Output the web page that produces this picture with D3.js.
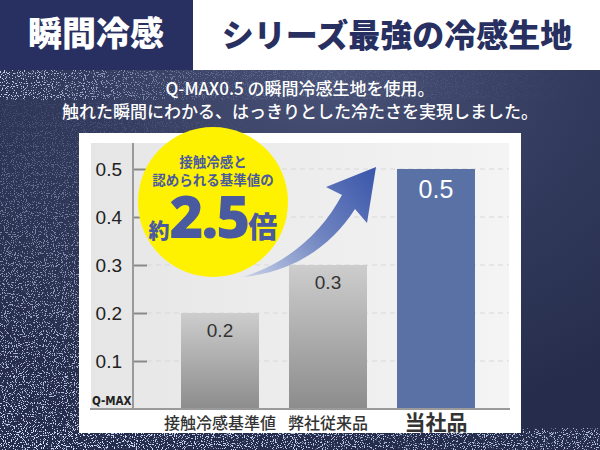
<!DOCTYPE html>
<html><head><meta charset="utf-8">
<script src="https://cdn.jsdelivr.net/npm/d3@7"></script>
<style>html,body{margin:0;padding:0;background:#2a3152;}svg{display:block;}</style>
</head><body>
<script>
const categories = ["接触冷感基準値", "弊社従来品", "当社品"];
const values = [0.2, 0.3, 0.5];
const valueLabels = ["0.2", "0.3", "0.5"];
const yTicks = [0.1, 0.2, 0.3, 0.4, 0.5];
const headerLeft = "瞬間冷感";
const headerRight = "シリーズ最強の冷感生地";
const subLines = ["Q-MAX0.5 の瞬間冷感生地を使用。", "触れた瞬間にわかる、はっきりとした冷たさを実現しました。"];
const calloutLines = ["接触冷感と", "認められる基準値の"];
const calloutBig = ["約", "2.5", "倍"];

const W = 600, H = 450;
const JP = "'Noto Sans CJK JP','Noto Sans',sans-serif";
const NUM = "'Liberation Sans',Arial,sans-serif";
const svg = d3.select("body").append("svg").attr("width", W).attr("height", H);
const defs = svg.append("defs");

// background gradients
const bg = defs.append("radialGradient").attr("id","bg").attr("cx","0.55").attr("cy","0.15").attr("r","0.8");
bg.append("stop").attr("offset","0").attr("stop-color","#4a5478");
bg.append("stop").attr("offset","0.5").attr("stop-color","#333b5e");
bg.append("stop").attr("offset","1").attr("stop-color","#262d4c");

// sparkle filter
const f = defs.append("filter").attr("id","sparkle").attr("x","0").attr("y","0").attr("width","1").attr("height","1");
f.append("feTurbulence").attr("type","fractalNoise").attr("baseFrequency","0.9").attr("numOctaves","2").attr("seed","7").attr("result","n");
f.append("feColorMatrix").attr("in","n").attr("type","matrix")
  .attr("values","0 0 0 0 0.66  0 0 0 0 0.76  0 0 0 0 0.98  0 0 0 -16 6.6").attr("result","s");
f.append("feComposite").attr("in","s").attr("in2","SourceGraphic").attr("operator","in");

const mk = defs.append("radialGradient").attr("id","spmask").attr("cx","0").attr("cy","1").attr("r","0.85");
mk.append("stop").attr("offset","0").attr("stop-color","#fff").attr("stop-opacity","1");
mk.append("stop").attr("offset","0.45").attr("stop-color","#fff").attr("stop-opacity","0.6");
mk.append("stop").attr("offset","1").attr("stop-color","#fff").attr("stop-opacity","0");
const mk3 = defs.append("linearGradient").attr("id","spmask3").attr("x1","0").attr("x2","1");
mk3.append("stop").attr("offset","0").attr("stop-color","#fff").attr("stop-opacity","0.9");
mk3.append("stop").attr("offset","0.35").attr("stop-color","#fff").attr("stop-opacity","0.2");
mk3.append("stop").attr("offset","1").attr("stop-color","#fff").attr("stop-opacity","0");

svg.append("rect").attr("width",W).attr("height",H).attr("fill","url(#bg)");
svg.append("rect").attr("width",W).attr("height",H).attr("fill","url(#spmask)").attr("filter","url(#sparkle)");
svg.append("rect").attr("y",70).attr("width",W).attr("height",30).attr("fill","url(#spmask3)").attr("filter","url(#sparkle)");
svg.append("rect").attr("y",428).attr("width",W).attr("height",22).attr("fill","#fff").attr("opacity",0.8).attr("filter","url(#sparkle)");

// header
svg.append("rect").attr("x",0).attr("y",0).attr("width",W).attr("height",70).attr("fill","#ffffff");
svg.append("rect").attr("x",0).attr("y",0).attr("width",193).attr("height",70).attr("fill","#283061");
svg.append("text").attr("x",96).attr("y",46).attr("text-anchor","middle")
  .attr("font-family",JP).attr("font-weight",900).attr("font-size",34).attr("fill","#fff").text(headerLeft);
svg.append("text").attr("x",397).attr("y",47).attr("text-anchor","middle")
  .attr("font-family",JP).attr("font-weight",900).attr("font-size",32).attr("fill","#283061").text(headerRight);

// subtitle
svg.selectAll("text.sub").data(subLines).join("text").attr("class","sub")
  .attr("x",300).attr("y",(d,i)=>95+i*23).attr("text-anchor","middle")
  .attr("font-family",JP).attr("font-weight",500).attr("font-size",17).attr("fill","#fff").text(d=>d);

// panel
svg.append("rect").attr("x",79).attr("y",133).attr("width",442).attr("height",300).attr("fill","#fff");
const pg = defs.append("linearGradient").attr("id","plotbg").attr("x1","0").attr("x2","1");
pg.append("stop").attr("offset","0").attr("stop-color","#e6e6e6");
pg.append("stop").attr("offset","1").attr("stop-color","#f4f4f4");
svg.append("rect").attr("x",91).attr("y",143).attr("width",418).attr("height",266).attr("fill","url(#plotbg)");

// scales
const y = d3.scaleLinear().domain([0,0.5]).range([409,169]);
const x = d3.scaleBand().domain(categories).range([166,490]).paddingInner(0.278).paddingOuter(0.139);

// gridlines
svg.append("g").selectAll("line").data(yTicks).join("line")
  .attr("x1",147).attr("x2",509).attr("y1",d=>y(d)).attr("y2",d=>y(d))
  .attr("stroke","#d8d8d8").attr("stroke-width",1).attr("stroke-dasharray","5,4");

// y axis
const yAxis = d3.axisLeft(y).tickValues(yTicks).tickSize(-14).tickPadding(11).tickFormat(d3.format(".1f"));
const ya = svg.append("g").attr("transform","translate(133,0)").call(yAxis);
ya.select(".domain").remove();
ya.selectAll(".tick line").attr("stroke","#8a8a8a").attr("stroke-width",2);
ya.selectAll(".tick text").attr("font-family",NUM).attr("font-size",19).attr("fill","#222").attr("dy","0.36em");
svg.append("line").attr("x1",133).attr("x2",133).attr("y1",143).attr("y2",409).attr("stroke","#9a9a9a").attr("stroke-width",2);

// bars
const bgGrad = defs.append("linearGradient").attr("id","graybar").attr("x1","0").attr("x2","0").attr("y1","0").attr("y2","1");
bgGrad.append("stop").attr("offset","0").attr("stop-color","#cdcdcd");
bgGrad.append("stop").attr("offset","1").attr("stop-color","#8c8c8c");
const barColors = ["url(#graybar)","url(#graybar)","#5a71a6"];
svg.append("g").selectAll("rect").data(values).join("rect")
  .attr("x",(d,i)=>x(categories[i])).attr("width",x.bandwidth())
  .attr("y",d=>y(d)).attr("height",d=>y(0)-y(d))
  .attr("fill",(d,i)=>barColors[i]);
svg.append("g").selectAll("text").data(values).join("text")
  .attr("x",(d,i)=>x(categories[i])+x.bandwidth()/2)
  .attr("y",(d,i)=>y(d)+(i===2?29:24)).attr("text-anchor","middle")
  .attr("font-family",NUM).attr("font-size",(d,i)=>i===2?25:19)
  .attr("fill",(d,i)=>i===2?"#fff":"#333").text((d,i)=>valueLabels[i]);

// x axis line
svg.append("line").attr("x1",90).attr("x2",510).attr("y1",409).attr("y2",409).attr("stroke","#9a9a9a").attr("stroke-width",2);
svg.append("text").attr("x",92).attr("y",405).attr("font-family","'Liberation Sans Narrow','DejaVu Sans Condensed',sans-serif")
  .attr("font-weight",700).attr("font-size",11.5).attr("fill","#222").text("Q-MAX");

// category labels
svg.append("g").selectAll("text").data(categories).join("text")
  .attr("x",d=>x(d)+x.bandwidth()/2).attr("y",(d,i)=>i===2?430:429).attr("text-anchor","middle")
  .attr("font-family",JP).attr("font-weight",(d,i)=>i===2?700:500).attr("font-size",(d,i)=>i===2?21:16)
  .attr("fill","#333").text(d=>d);

// arrow
const ag = defs.append("linearGradient").attr("id","arrowg").attr("gradientUnits","userSpaceOnUse")
  .attr("x1",243).attr("y1",277).attr("x2",376).attr("y2",167);
ag.append("stop").attr("offset","0").attr("stop-color","#c9d2e8");
ag.append("stop").attr("offset","0.5").attr("stop-color","#6f84c0");
ag.append("stop").attr("offset","1").attr("stop-color","#3a55aa");
svg.append("path").attr("fill","url(#arrowg)")
  .attr("d","M243,277 C290,262 322,232 342,195 L326,187 L376,167 L367,223 L355,209 C330,248 292,272 243,277 Z");

// callout
svg.append("circle").attr("cx",213).attr("cy",202).attr("r",75).attr("fill","#fff200");
svg.selectAll("text.co").data(calloutLines).join("text").attr("class","co")
  .attr("x",213).attr("y",(d,i)=>167+i*18).attr("text-anchor","middle")
  .attr("font-family",JP).attr("font-weight",700).attr("font-size",13.5).attr("fill","#4a5aa0").text(d=>d);
const big = svg.append("text").attr("x",213).attr("y",238).attr("text-anchor","middle")
  .attr("font-family",JP).attr("font-weight",900).attr("fill","#4a5aa0");
big.append("tspan").attr("font-size",21).text(calloutBig[0]);
big.append("tspan").attr("font-size",58).attr("font-family","'Noto Sans',"+NUM).attr("letter-spacing",-2).text(calloutBig[1]);
big.append("tspan").attr("font-size",29).text(calloutBig[2]);
</script>
</body></html>
